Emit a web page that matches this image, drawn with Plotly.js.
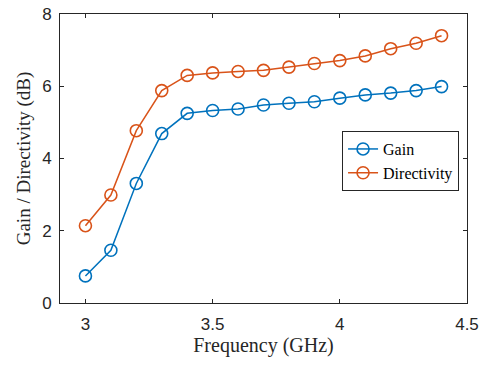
<!DOCTYPE html>
<html>
<head>
<meta charset="utf-8">
<script src="https://cdn.plot.ly/plotly-3.0.1.min.js"></script>
<style>html,body{margin:0;padding:0;background:#fff;}#chart{width:487px;height:365px;}</style>
</head>
<body>
<div id="chart"></div>
<script>
const freq = [3.0, 3.1, 3.2, 3.3, 3.4, 3.5, 3.6, 3.7, 3.8, 3.9, 4.0, 4.1, 4.2, 4.3, 4.4];
const gain = [0.75, 1.46, 3.31, 4.69, 5.25, 5.33, 5.37, 5.48, 5.53, 5.57, 5.67, 5.76, 5.81, 5.88, 5.99];
const directivity = [2.14, 2.99, 4.77, 5.88, 6.30, 6.37, 6.41, 6.44, 6.53, 6.63, 6.71, 6.84, 7.04, 7.19, 7.40];
const xTicks = [3, 3.5, 4, 4.5];
const xTickText = ['3', '3.5', '4', '4.5'];
const yTicks = [0, 2, 4, 6, 8];

const mk = (color) => ({symbol: 'circle-open', size: 12, color: color, line: {width: 1.6, color: color}});
const traces = [
  {x: freq, y: gain, name: 'Gain', type: 'scatter', mode: 'lines+markers',
   line: {color: '#0072BD', width: 1.5}, marker: mk('#0072BD')},
  {x: freq, y: directivity, name: 'Directivity', type: 'scatter', mode: 'lines+markers',
   line: {color: '#D95319', width: 1.5}, marker: mk('#D95319')}
];
const axisCommon = {
  showgrid: false, zeroline: false, showline: true, mirror: 'allticks',
  linecolor: '#262626', linewidth: 1, ticks: 'inside', ticklen: 4, tickcolor: '#262626',
  tickfont: {family: 'Liberation Sans, Arial, sans-serif', size: 17, color: '#262626'}
};
const serif = 'Liberation Serif, Times New Roman, serif';
const layout = {
  width: 487, height: 365,
  margin: {l: 60, r: 20, t: 14, b: 62},
  paper_bgcolor: '#fff', plot_bgcolor: '#fff',
  showlegend: true,
  legend: {x: 0.693, y: 0.595, xanchor: 'left', yanchor: 'top',
    bordercolor: '#262626', borderwidth: 1, bgcolor: '#fff',
    font: {family: serif, size: 16, color: '#000'},
    tracegroupgap: 0, itemwidth: 30},
  xaxis: Object.assign({}, axisCommon, {range: [2.9, 4.5], tickvals: xTicks, ticktext: xTickText,
    ticklabelstandoff: 6,
    title: {text: 'Frequency (GHz)', standoff: 4, font: {family: serif, size: 20, color: '#262626'}}}),
  yaxis: Object.assign({}, axisCommon, {range: [0, 8], tickvals: yTicks,
    ticklabelstandoff: 4,
    title: {text: 'Gain / Directivity (dB)', standoff: 6, font: {family: serif, size: 19, color: '#262626'}}})
};
Plotly.newPlot('chart', traces, layout, {displayModeBar: false, staticPlot: true});
</script>
</body>
</html>
